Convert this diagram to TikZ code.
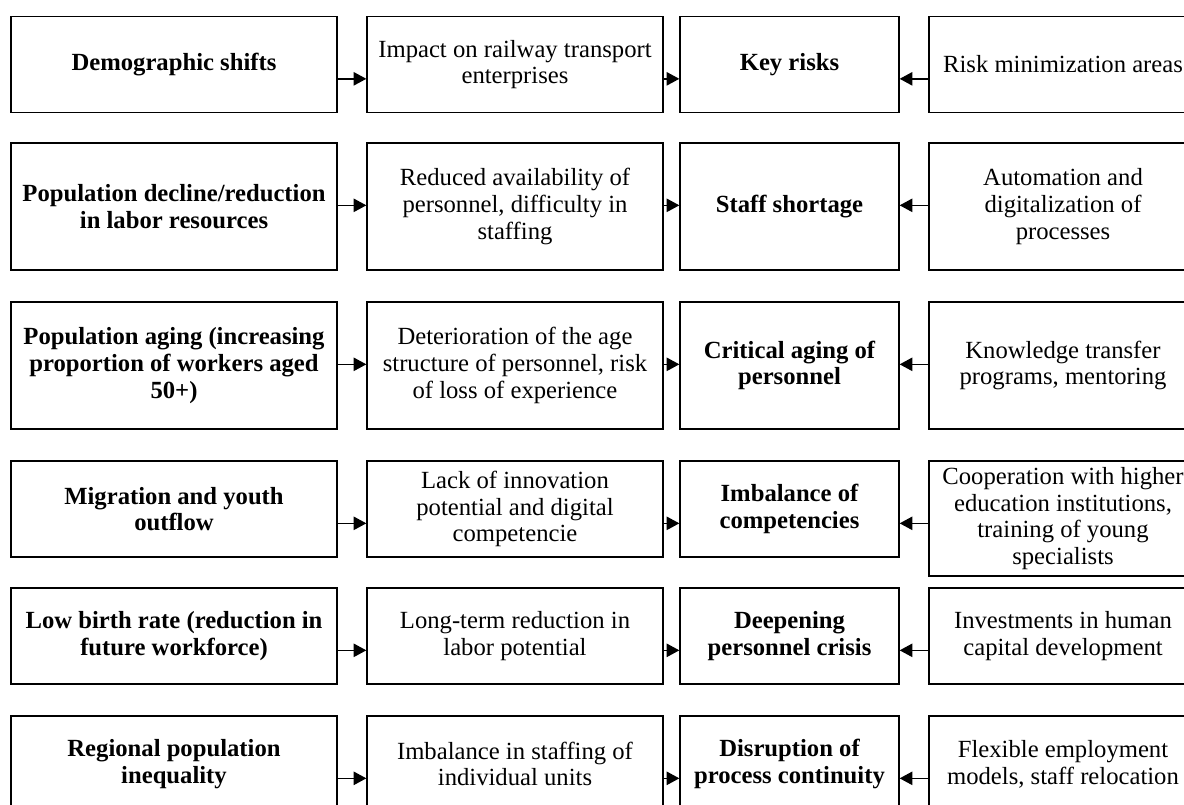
\documentclass[tikz,border=0pt]{standalone}
\usepackage{fontspec}
\setmainfont{Liberation Serif}
\usetikzlibrary{arrows.meta}

\begin{document}
\begin{tikzpicture}[x=0.75pt,y=-0.75pt]
                \tikzset{cell/.style = {draw,line width=1pt,align=center,inner sep=2pt,font=\fontsize{18.5}{20}\selectfont}}
                \tikzset{head/.style = {cell,font=\fontsize{18.5}{20}\selectfont\bfseries}}
                \tikzset{c1/.style = {minimum width=244.5pt}, c2/.style = {minimum width=222pt}}
                \tikzset{c3/.style = {minimum width=164.25pt}, c4/.style = {minimum width=201pt}}
                \tikzset{low/.style = {minimum height=72pt}, high/.style = {minimum height=95.25pt}}
                \tikzset{edge/.style = {-{Triangle[length=9.5pt,width=10pt]},line width=1.1pt}}

                \clip (0,0) rectangle (1184,805);

                \node[head,c1,low] (f1) at (174,64.5) {Demographic shifts};
                \node[cell,c2,low] (e1) at (515,64.5) {Impact on railway transport\\enterprises};
                \node[head,c3,low] (r1) at (789.5,64.5) {Key risks};
                \node[cell,c4,low] (m1) at (1063,64.5) {Risk minimization areas};

                \node[head,c1,high] (f2) at (174,206.5) {Population decline/reduction\\in labor resources};
                \node[cell,c2,high] (e2) at (515,206.5) {Reduced availability of\\personnel, difficulty in\\staffing};
                \node[head,c3,high] (r2) at (789.5,206.5) {Staff shortage};
                \node[cell,c4,high] (m2) at (1063,206.5) {Automation and\\digitalization of\\processes};

                \node[head,c1,high] (f3) at (174,365.5) {Population aging (increasing\\proportion of workers aged\\50+)};
                \node[cell,c2,high] (e3) at (515,365.5) {Deterioration of the age\\structure of personnel, risk\\of loss of experience};
                \node[head,c3,high] (r3) at (789.5,365.5) {Critical aging of\\personnel};
                \node[cell,c4,high] (m3) at (1063,365.5) {Knowledge transfer\\programs, mentoring};

                \node[head,c1,low] (f4) at (174,509) {Migration and youth\\outflow};
                \node[cell,c2,low] (e4) at (515,509) {Lack of innovation\\potential and digital\\competencie};
                \node[head,c3,low] (r4) at (789.5,509) {Imbalance of\\competencies};
                \node[cell,c4,minimum height=86.25pt] (m4) at (1063,518.5) {Cooperation with higher\\education institutions,\\training of young\\specialists};

                \node[head,c1,low] (f5) at (174,636) {Low birth rate (reduction in\\future workforce)};
                \node[cell,c2,low] (e5) at (515,636) {Long-term reduction in\\labor potential};
                \node[head,c3,low] (r5) at (789.5,636) {Deepening\\personnel crisis};
                \node[cell,c4,low] (m5) at (1063,636) {Investments in human\\capital development};

                \node[head,c1,low] (f6) at (174,764) {Regional population\\inequality};
                \node[cell,c2,low] (e6) at (515,764) {Imbalance in staffing of\\individual units};
                \node[head,c3,low] (r6) at (789.5,764) {Disruption of\\process continuity};
                \node[cell,c4,low] (m6) at (1063,764) {Flexible employment\\models, staff relocation};

                % arrows sit 63px below the top edge of each row
                \draw[edge] ([yshift=-47.25pt]f1.north east) -- ([yshift=-47.25pt]e1.north west);
                \draw[edge] ([yshift=-47.25pt]e1.north east) -- ([yshift=-47.25pt]r1.north west);
                \draw[edge] ([yshift=-47.25pt]m1.north west) -- ([yshift=-47.25pt]r1.north east);
                \draw[edge] ([yshift=-47.25pt]f2.north east) -- ([yshift=-47.25pt]e2.north west);
                \draw[edge] ([yshift=-47.25pt]e2.north east) -- ([yshift=-47.25pt]r2.north west);
                \draw[edge] ([yshift=-47.25pt]m2.north west) -- ([yshift=-47.25pt]r2.north east);
                \draw[edge] ([yshift=-47.25pt]f3.north east) -- ([yshift=-47.25pt]e3.north west);
                \draw[edge] ([yshift=-47.25pt]e3.north east) -- ([yshift=-47.25pt]r3.north west);
                \draw[edge] ([yshift=-47.25pt]m3.north west) -- ([yshift=-47.25pt]r3.north east);
                \draw[edge] ([yshift=-47.25pt]f4.north east) -- ([yshift=-47.25pt]e4.north west);
                \draw[edge] ([yshift=-47.25pt]e4.north east) -- ([yshift=-47.25pt]r4.north west);
                \draw[edge] ([yshift=-47.25pt]m4.north west) -- ([yshift=-47.25pt]r4.north east);
                \draw[edge] ([yshift=-47.25pt]f5.north east) -- ([yshift=-47.25pt]e5.north west);
                \draw[edge] ([yshift=-47.25pt]e5.north east) -- ([yshift=-47.25pt]r5.north west);
                \draw[edge] ([yshift=-47.25pt]m5.north west) -- ([yshift=-47.25pt]r5.north east);
                \draw[edge] ([yshift=-47.25pt]f6.north east) -- ([yshift=-47.25pt]e6.north west);
                \draw[edge] ([yshift=-47.25pt]e6.north east) -- ([yshift=-47.25pt]r6.north west);
                \draw[edge] ([yshift=-47.25pt]m6.north west) -- ([yshift=-47.25pt]r6.north east);

        \end{tikzpicture}
\end{document}
